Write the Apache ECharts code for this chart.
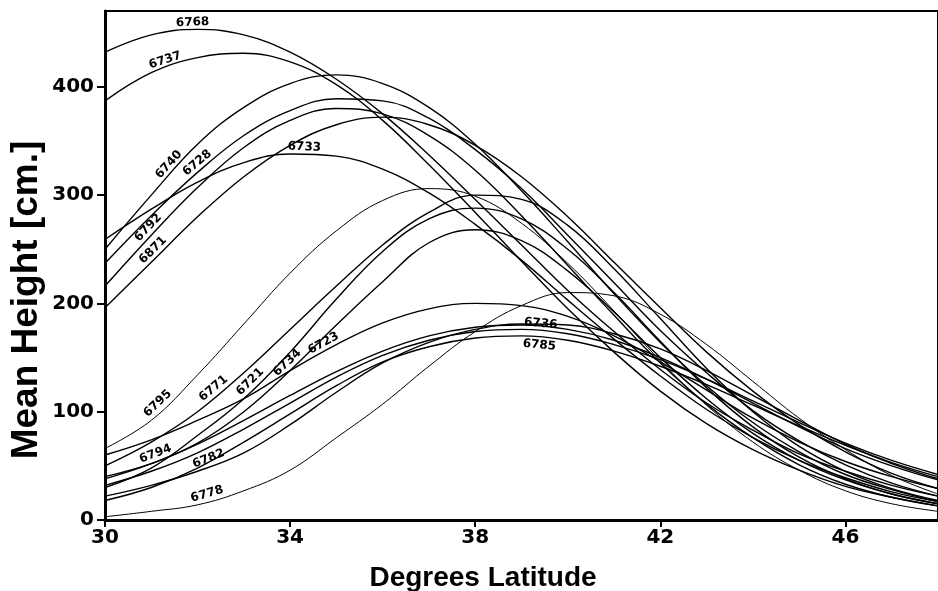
<!DOCTYPE html>
<html><head><meta charset="utf-8">
<script src="https://cdn.jsdelivr.net/npm/echarts@6/dist/echarts.min.js"></script>
<style>html,body{margin:0;padding:0;background:#fff}#c{width:938px;height:591px}</style>
</head><body><div id="c"></div>
<script>
// Latitude samples (degrees)
const latitudes = [30,31,32,33,34,35,36,37,38,39,40,41,42,43,44,45,46,47,48];
// Mean height (cm) per station curve
const h6768 = [432,448,453,448,432,407,375,337,296,254,212,174,139,108,83,61,45,32,22];
const h6737 = [387,413,427,431,423,402,369,328,284,239,195,155,119,89,65,46,31,21,13];
const h6740 = [250,300,347,381,403,411,403,381,347,304,257,209,164,124,90,63,42,28,17];
const h6728 = [237,281,321,355,378,389,387,371,342,306,263,219,175,136,101,73,51,34,22];
const h6792 = [216,263,307,344,369,380,375,355,323,281,235,189,145,107,76,51,33,21,13];
const h6871 = [196,238,280,317,346,365,372,365,346,317,280,238,196,155,119,88,63,43,29];
const h6733 = [259,287,312,330,338,336,324,302,273,240,203,167,133,102,76,55,39,26,17];
const h6795 = [66,92,134,181,228,267,295,306,299,274,237,193,147,106,72,46,27,15,8];
const h6771 = [50,72,100,136,176,216,254,284,300,296,272,232,186,140,100,68,45,29,18];
const h6721 = [30,48,78,112,155,204,248,278,288,278,250,210,165,122,86,58,38,24,15];
const h6734 = [38,52,71,100,138,180,220,256,268,258,230,192,150,112,80,55,37,24,15];
const h6723 = [60,74,92,112,138,162,182,195,200,198,188,170,146,120,94,72,54,40,29];
const h6794 = [40,52,70,92,115,137,156,170,178,180,176,166,150,130,108,86,66,50,37];
const h6782 = [22,32,45,62,88,118,145,164,176,181,180,172,158,138,115,92,70,52,38];
const h6778 = [3,8,14,27,46,76,107,142,174,198,210,207,190,162,128,94,65,41,24];
const h6736 = [32,45,62,84,108,132,152,166,174,176,172,162,148,130,110,90,71,55,42];
const h6785 = [18,30,48,72,98,124,146,160,168,170,166,156,142,125,106,87,69,53,40];

const xTickLabels = [30,34,38,42,46];
const yTickLabels = [0,100,200,300,400];

const curves = [
  ['6768', h6768], ['6737', h6737], ['6740', h6740], ['6728', h6728],
  ['6792', h6792], ['6871', h6871], ['6733', h6733], ['6795', h6795],
  ['6771', h6771], ['6721', h6721], ['6734', h6734], ['6723', h6723],
  ['6794', h6794], ['6782', h6782], ['6778', h6778], ['6736', h6736],
  ['6785', h6785]
];
// label placement along each curve (latitude, side: 1 above / -1 below) - layout only
const labelPlace = {
  '6768':[31.9,1], '6737':[31.35,1], '6740':[31.5,1], '6728':[32.1,1],
  '6792':[31.05,1], '6871':[31.15,1], '6733':[34.3,1], '6795':[31.25,1],
  '6771':[32.45,1], '6721':[33.25,1], '6734':[34.05,1], '6723':[34.8,1],
  '6794':[31.15,1], '6782':[32.3,1], '6778':[32.25,1], '6736':[39.4,1],
  '6785':[39.4,-1]
};
const thin = {'6795':1, '6778':1};

const FONT = '"DejaVu Sans", sans-serif';
const HFONT = '"Liberation Sans", Arial, sans-serif';
const chart = echarts.init(document.getElementById('c'));
const axisLabelStyle = {color:'#000', fontFamily:FONT, fontWeight:'bold', fontSize:20};

chart.setOption({
  animation:false,
  backgroundColor:'#fff',
  grid:{left:105, top:11, right:-14, bottom:71, show:true, borderColor:'#000', borderWidth:2, backgroundColor:'transparent'},
  xAxis:{
    type:'value', min:30, max:48, interval:4,
    axisLine:{show:true, onZero:false, lineStyle:{color:'#000', width:3}},
    axisTick:{show:true, length:7, customValues:xTickLabels, lineStyle:{color:'#000', width:2}},
    axisLabel:Object.assign({margin:8, customValues:xTickLabels}, axisLabelStyle),
    splitLine:{show:false}
  },
  yAxis:{
    type:'value', min:0, max:470, interval:100,
    axisLine:{show:true, onZero:false, lineStyle:{color:'#000', width:3}},
    axisTick:{show:true, length:8, customValues:yTickLabels, lineStyle:{color:'#000', width:2}},
    axisLabel:Object.assign({margin:11, customValues:yTickLabels}, axisLabelStyle),
    splitLine:{show:false}
  },
  series: curves.map(([name, vals]) => ({
    type:'line', name:name, smooth:0.4, symbol:'none', clip:true,
    lineStyle:{color:'#000', width: thin[name] ? 1.0 : 1.4},
    data: latitudes.map((x,i)=>[x, vals[i]])
  }))
});

function valAt(arr, x){
  for (let i=0;i<latitudes.length-1;i++){
    if (x>=latitudes[i] && x<=latitudes[i+1]){
      const t=(x-latitudes[i])/(latitudes[i+1]-latitudes[i]);
      return arr[i]+(arr[i+1]-arr[i])*t;
    }
  }
  return arr[arr.length-1];
}

const graphics = [];
curves.forEach(([name, vals]) => {
  const [lx, side] = labelPlace[name];
  const p = chart.convertToPixel({gridIndex:0}, [lx, valAt(vals, lx)]);
  const p1 = chart.convertToPixel({gridIndex:0}, [lx-0.3, valAt(vals, lx-0.3)]);
  const p2 = chart.convertToPixel({gridIndex:0}, [lx+0.3, valAt(vals, lx+0.3)]);
  const dx = p2[0]-p1[0], dy = p2[1]-p1[1];
  const len = Math.hypot(dx, dy);
  const nx = dy/len, ny = -dx/len;
  const off = 7.5*side;
  graphics.push({
    type:'text', x:p[0]+nx*off, y:p[1]+ny*off, rotation:-Math.atan2(dy, dx), z:10,
    style:{text:name, font:'bold 12px ' + FONT, fill:'#000', align:'center', verticalAlign:'middle', textAlign:'center', textVerticalAlign:'middle'}
  });
});
graphics.push({
  type:'text', x:483, y:578, z:10,
  style:{text:'Degrees Latitude', font:'bold 28px ' + HFONT, fill:'#000', align:'center', verticalAlign:'middle', textAlign:'center', textVerticalAlign:'middle'}
});
graphics.push({
  type:'text', x:27, y:300, rotation:Math.PI/2, z:10,
  style:{text:'Mean Height [cm.]', font:'bold 37px ' + HFONT, fill:'#000', align:'center', verticalAlign:'middle', textAlign:'center', textVerticalAlign:'middle'}
});
chart.setOption({graphic:graphics});
</script>
</body></html>
